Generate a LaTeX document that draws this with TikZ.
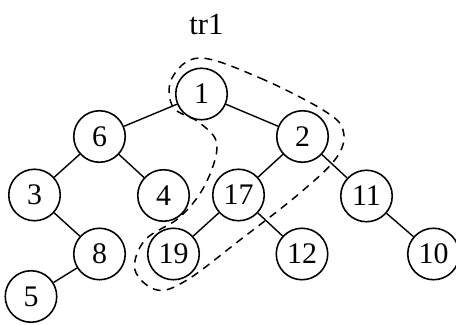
\documentclass[tikz,border=0pt]{standalone}
\usepackage{fontspec}
\setmainfont{Liberation Serif}
\usetikzlibrary{positioning,calc}

\begin{document}
\begin{tikzpicture}[vert/.style={circle,draw,line width=0.9pt,minimum size=1.03cm,inner sep=0pt,font=\fontsize{17}{20}\selectfont},
	edge/.style={line width=0.8pt},
	grp/.style={line width=0.85pt,dash pattern=on 4.5pt off 3.5pt}]
	\useasboundingbox (0,0) rectangle (9.12,6.5);
%		\draw[lightgray] (0,0) grid (9,6);
	\node[font=\fontsize{17.5}{20}\selectfont] (title) at (4.13,6.0) {tr1};
	\node[vert] (n1) at (4.03,4.62) {1};
	\node[vert] (n6) at (1.99,3.77) {6};
	\node[vert] (n2) at (6.05,3.77) {2};
	\node[vert] (n3) at (0.69,2.60) {3};
	\node[vert] (n4) at (3.27,2.59) {4};
	\node[vert] (n17) at (4.77,2.60) {17};
	\node[vert] (n11) at (7.33,2.58) {11};
	\node[vert] (n8) at (1.99,1.42) {8};
	\node[vert] (n19) at (3.47,1.42) {19};
	\node[vert] (n12) at (6.04,1.42) {12};
	\node[vert] (n10) at (8.67,1.42) {10};
	\node[vert] (n5) at (0.62,0.57) {5};
	% edges
	\draw[edge] (n1) -- (n6);
	\draw[edge] (n1) -- (n2);
	\draw[edge] (n6) -- (n3);
	\draw[edge] (n6) -- (n4);
	\draw[edge] (n2) -- (n17);
	\draw[edge] (n2) -- (n11);
	\draw[edge] (n3) -- (n8);
	\draw[edge] (n8) -- (n5);
	\draw[edge] (n17) -- (n19);
	\draw[edge] (n17) -- (n12);
	\draw[edge] (n11) -- (n10);
	% dashed group around 1, 2, 17, 19
	\draw[grp] plot[smooth cycle,tension=0.6] coordinates {(4.00,5.34) (5.20,4.94) (6.46,4.30) (6.86,3.90) (6.74,3.36) (6.00,2.64) (4.80,1.70) (3.74,0.90) (3.14,0.70) (2.70,1.10) (2.90,1.70) (3.60,2.16) (4.10,2.80) (4.34,3.60) (4.00,4.04) (3.46,4.36) (3.44,4.94)};
\end{tikzpicture}
\end{document}
